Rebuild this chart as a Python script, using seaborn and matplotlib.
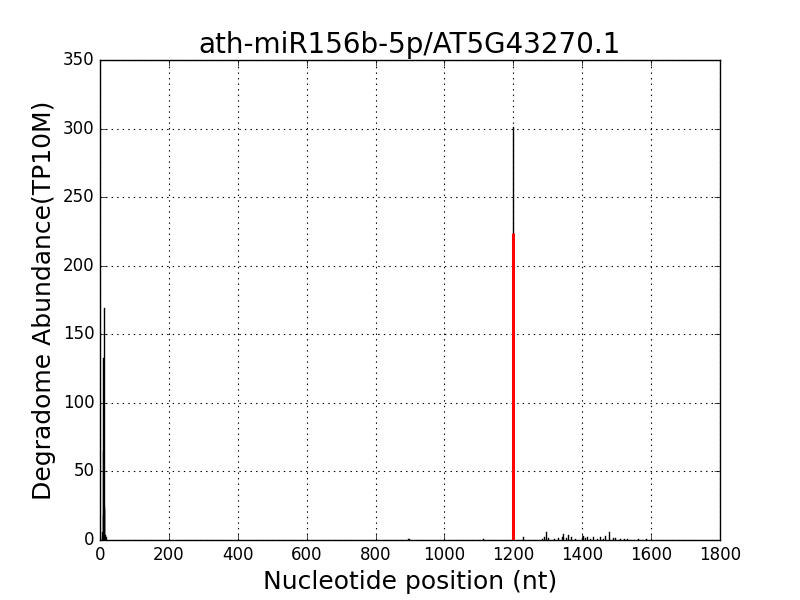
import numpy as np
import pandas as pd
import matplotlib
matplotlib.use("Agg")
import matplotlib.pyplot as plt
import seaborn as sns

plt.style.use("classic")

title = "ath-miR156b-5p/AT5G43270.1"

# degradome reads (position in nt, abundance in TP10M)
peak_pos = [5, 7, 8, 9, 10, 11, 12, 13, 14, 16,
            893, 897, 1112,
            1199,
            1229, 1283, 1290, 1295, 1300, 1318, 1330, 1340, 1345, 1352, 1359,
            1366, 1380, 1398, 1403, 1409, 1415, 1422, 1430, 1442, 1453, 1460,
            1465, 1479, 1488, 1495, 1510, 1520, 1529, 1562, 1585]
peak_val = [3, 6, 18, 65, 133, 169, 24, 22, 4, 2,
            0.5, 0.5, 0.4,
            301.5,
            2.4, 1.0, 2.0, 5.8, 1.2, 1.0, 1.5, 2.5, 4.4, 1.5, 4.0,
            2.2, 1.0, 1.5, 3.0, 1.2, 2.0, 1.0, 2.2, 1.0, 2.0, 1.0,
            3.0, 5.8, 1.2, 1.5, 1.0, 0.8, 1.0, 1.0, 0.5]

cleave_pos = [1199]
cleave_val = [224]

# one stem (0 -> value) per position, as long-form data
stems = pd.DataFrame({
    "pos": np.repeat(peak_pos, 2),
    "val": np.ravel([[0, v] for v in peak_val]),
    "id": np.repeat(np.arange(len(peak_pos)), 2),
})

fig, ax = plt.subplots(figsize=(8, 6), dpi=100)
sns.lineplot(data=stems, x="pos", y="val", units="id", estimator=None,
             color="black", linewidth=1, ax=ax)
ax.vlines(cleave_pos, 0, cleave_val, color="red", linewidth=2.2, zorder=3)

ax.set_xlim(0, 1800)
ax.set_ylim(0, 350)
ax.set_xticks(np.arange(0, 1801, 200))
ax.set_yticks(np.arange(0, 351, 50))
ax.grid(True, color="black", linestyle=":", linewidth=0.8)
ax.set_axisbelow(True)
ax.tick_params(labelsize=12)
ax.set_title(title, fontsize=20)
ax.set_xlabel("Nucleotide position (nt)", fontsize=18)
ax.set_ylabel("Degradome Abundance(TP10M)", fontsize=18)

fig.savefig("out.png", dpi=100)
